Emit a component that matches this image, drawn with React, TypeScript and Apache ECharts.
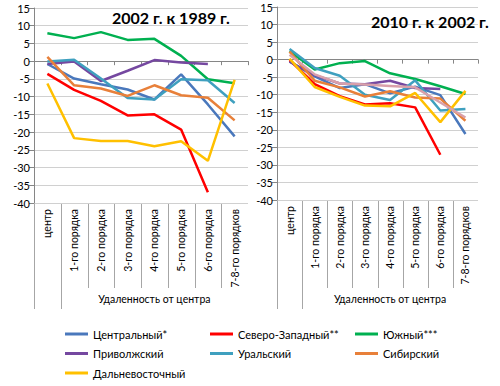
import React, { useEffect, useRef } from "react";
import * as echarts from "echarts";

const categories = ["центр", "1-го порядка", "2-го порядка", "3-го порядка", "4-го порядка", "5-го порядка", "6-го порядка", "7-8-го порядков"];

const regionNames = ["Центральный*", "Северо-Западный**", "Южный***", "Приволжский", "Уральский", "Сибирский", "Дальневосточный"];
const russiaName = "Россия";
const colors = ["#4A78BC", "#FF0000", "#00B050", "#7548A0", "#3FA0BF", "#E8803A", "#FFC000"];
const russiaColor = "#D9A0AA";

// 2002 г. к 1989 г.
const central1 = [-0.8, -4.9, -6.5, -8.0, -10.8, -3.7, -12.2, -21.2];
const northWest1 = [-3.6, -8.1, -11.2, -15.3, -15.0, -19.3, -37.0, null];
const south1 = [7.9, 6.5, 8.2, 6.0, 6.3, 1.5, -5.1, -6.2];
const volga1 = [-0.8, -0.1, -5.6, -2.7, 0.3, -0.4, -0.8, null];
const ural1 = [-0.1, 0.4, -4.9, -10.4, -10.8, -5.1, -5.4, -11.8];
const siberia1 = [1.2, -6.8, -7.7, -9.8, -6.8, -9.6, -10.3, -16.7];
const farEast1 = [-6.3, -21.7, -22.5, -22.5, -24.0, -22.6, -28.1, -5.3];

// 2010 г. к 2002 г.
const central2 = [-0.5, -4.8, -8.1, -7.0, -9.6, -7.7, -10.1, -21.2];
const northWest2 = [-0.1, -7.0, -10.4, -12.8, -12.4, -13.6, -27.1, null];
const south2 = [2.4, -2.8, -1.0, -0.4, -3.9, -5.5, -7.6, -9.8];
const volga2 = [-0.6, -4.4, -6.8, -7.0, -6.0, -8.1, -8.4, null];
const ural2 = [3.0, -2.4, -4.6, -10.0, -11.5, -5.9, -14.5, -14.1];
const siberia2 = [2.3, -6.0, -7.9, -10.5, -9.0, -10.8, -11.1, -17.4];
const farEast2 = [0.3, -7.8, -10.6, -13.1, -13.3, -9.5, -17.8, -8.9];
const russia2 = [1.4, -4.2, -6.8, -7.1, -7.5, -7.9, -12.2, -16.5];

const titles = ["2002 г. к 1989 г.", "2010 г. к 2002 г."];
const outerLabel = "Удаленность от центра";

const leftData = [central1, northWest1, south1, volga1, ural1, siberia1, farEast1];
const rightData = [central2, northWest2, south2, volga2, ural2, siberia2, farEast2];

const FONT = 'Lato, "Liberation Sans", Arial, sans-serif';
const AXIS_COLOR = "#868686";
const GRID_COLOR = "#D0D0D0";
const SEP_COLOR = "#A6A6A6";

const GL = { left: 34, top: 8, width: 214, height: 195 };
const GR = { left: 277, top: 7, width: 201, height: 193 };
const OUTER_BOTTOM = 309;
const INNER_BOTTOM = 288;
const OUTER_TEXT_Y = 299;

function yAxis(gridIndex: number) {
  return {
    type: "value",
    gridIndex,
    min: -40,
    max: 15,
    interval: 5,
    axisLine: { show: true, lineStyle: { color: AXIS_COLOR, width: 1 } },
    axisTick: { show: true, length: 5, lineStyle: { color: AXIS_COLOR } },
    axisLabel: { fontSize: 11, color: "#000", margin: 4, fontFamily: FONT },
    splitLine: { show: true, lineStyle: { color: GRID_COLOR, width: 1 } },
  };
}

function xAxes(gridIndex: number) {
  return [
    {
      type: "category",
      gridIndex,
      data: categories,
      boundaryGap: true,
      position: "bottom",
      axisLine: { show: true, onZero: true, lineStyle: { color: AXIS_COLOR, width: 1 } },
      axisTick: { show: true, length: 4, interval: 0, lineStyle: { color: AXIS_COLOR } },
      axisLabel: { show: false },
      splitLine: { show: false },
    },
    {
      type: "category",
      gridIndex,
      data: categories,
      boundaryGap: true,
      position: "bottom",
      axisLine: { show: false, onZero: false },
      axisTick: { show: false },
      axisLabel: { rotate: 90, interval: 0, fontSize: 10.5, color: "#000", margin: 6, fontFamily: FONT },
      splitLine: { show: false },
    },
  ];
}

// multi-level category axis decoration: separators below the plot and the outer group label
function axisDecor(g: { left: number; top: number; width: number; height: number }) {
  const step = g.width / categories.length;
  const bottom = g.top + g.height;
  const items: any[] = [];
  for (let i = 0; i < categories.length; i++) {
    const x = Math.round(g.left + i * step) + 0.5;
    items.push({
      type: "line",
      shape: { x1: x, y1: bottom, x2: x, y2: i < 2 ? OUTER_BOTTOM : INNER_BOTTOM },
      style: { stroke: SEP_COLOR, lineWidth: 1 },
      silent: true,
    });
  }
  items.push({
    type: "text",
    x: g.left + step + (g.width - step) / 2,
    y: OUTER_TEXT_Y,
    style: { text: outerLabel, fontSize: 10.5, fontFamily: FONT, fill: "#000", align: "center", verticalAlign: "middle" },
    silent: true,
  });
  return items;
}

function lineSeries(name: string, data: (number | null)[], color: string, xAxisIndex: number, yAxisIndex: number) {
  return {
    type: "line",
    name,
    data,
    xAxisIndex,
    yAxisIndex,
    symbol: "none",
    connectNulls: false,
    color,
    lineStyle: { width: 2.5, color },
    emphasis: { disabled: true },
  };
}

const legendBase = {
  orient: "vertical",
  itemWidth: 23,
  itemHeight: 3,
  itemGap: 7.5,
  icon: "rect",
  selectedMode: false,
  padding: 0,
  textStyle: { fontSize: 11, lineHeight: 12, color: "#000", fontFamily: FONT },
};

export default function App() {
  const ref = useRef<HTMLDivElement>(null);
  useEffect(() => {
    document.body.style.margin = "0";
    const chart = echarts.init(ref.current!, undefined, { renderer: "svg" });
    const series: any[] = [];
    regionNames.forEach((n, i) => series.push(lineSeries(n, leftData[i], colors[i], 0, 0)));
    regionNames.forEach((n, i) => series.push(lineSeries(n, rightData[i], colors[i], 2, 1)));
    series.push(lineSeries(russiaName, russia2, russiaColor, 2, 1));
    chart.setOption({
      animation: false,
      backgroundColor: "#fff",
      title: [
        { text: titles[0], left: 112, top: 9, padding: 0, textStyle: { fontSize: 16, fontWeight: "bold", color: "#000", fontFamily: FONT } },
        { text: titles[1], left: 371, top: 13, padding: 0, textStyle: { fontSize: 16, fontWeight: "bold", color: "#000", fontFamily: FONT } },
      ],
      grid: [
        { left: GL.left, top: GL.top, width: GL.width, height: GL.height, containLabel: false },
        { left: GR.left, top: GR.top, width: GR.width, height: GR.height, containLabel: false },
      ],
      xAxis: [...xAxes(0), ...xAxes(1)],
      yAxis: [yAxis(0), yAxis(1)],
      legend: [
        { ...legendBase, left: 65, top: 328, data: [regionNames[0], regionNames[3], regionNames[6]] },
        { ...legendBase, left: 210, top: 328, data: [regionNames[1], regionNames[4]] },
        { ...legendBase, left: 355, top: 328, data: [regionNames[2], regionNames[5]] },
      ],
      graphic: [...axisDecor(GL), ...axisDecor(GR)],
      series,
    });
    return () => chart.dispose();
  }, []);
  return <div ref={ref} style={{ width: 500, height: 386 }} />;
}
